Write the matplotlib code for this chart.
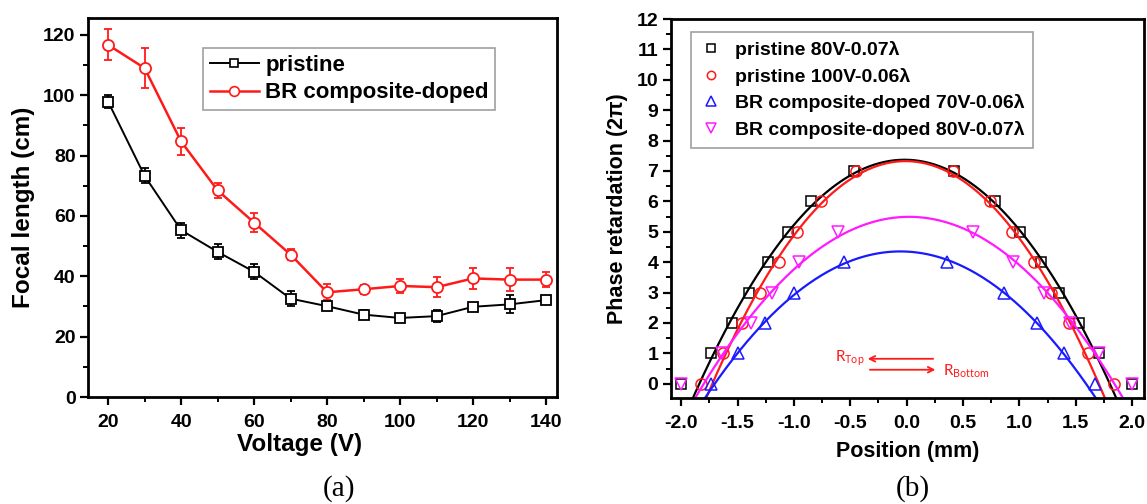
import numpy as np
import matplotlib
matplotlib.use("Agg")
import matplotlib.pyplot as plt
from matplotlib.ticker import MultipleLocator
from matplotlib.lines import Line2D

# ---------------- data: panel (a) ----------------
voltage = [20, 30, 40, 50, 60, 70, 80, 90, 100, 110, 120, 130, 140]
pristine_f = [97.9, 73.3, 55.3, 48.1, 41.5, 32.6, 30.1, 27.3, 26.2, 26.8, 29.9, 30.7, 32.1]
pristine_err = [2.2, 2.5, 2.5, 2.5, 2.5, 2.5, 1.3, 1.4, 1.2, 2.1, 1.2, 3.0, 1.3]
br_f = [116.7, 109.0, 84.7, 68.5, 57.8, 47.2, 34.7, 35.7, 36.8, 36.4, 39.3, 38.9, 38.9]
br_err = [5.1, 6.7, 4.6, 2.5, 3.2, 1.7, 2.7, 1.5, 2.2, 3.3, 3.6, 3.9, 2.5]

# ---------------- data: panel (b) ----------------
p80_x = [-2.0, -1.737, -1.551, -1.396, -1.226, -1.05, -0.851, -0.467,
         0.42, 0.786, 1.003, 1.195, 1.35, 1.529, 1.706, 2.0]
p80_y = [0, 1, 2, 3, 4, 5, 6, 7, 7, 6, 5, 4, 3, 2, 1, 0]

p100_x = [-1.824, -1.632, -1.458, -1.297, -1.136, -0.969, -0.762, -0.452,
          0.415, 0.74, 0.932, 1.127, 1.282, 1.443, 1.613, 1.839]
p100_y = [0, 1, 2, 3, 4, 5, 6, 7, 7, 6, 5, 4, 3, 2, 1, 0]

br70_x = [-1.737, -1.492, -1.26, -0.997, -0.554, 0.359, 0.861, 1.155, 1.396, 1.675]
br70_y = [0, 1, 2, 3, 4, 4, 3, 2, 1, 0]

br80_x = [-2.0, -1.638, -1.384, -1.198, -0.957, -0.607, 0.585, 0.941, 1.217, 1.452, 1.706, 2.0]
br80_y = [0, 1, 2, 3, 4, 5, 5, 4, 3, 2, 1, 0]

labels_a = ["pristine", "BR composite-doped"]
labels_b = ["pristine 80V-0.07λ", "pristine 100V-0.06λ",
            "BR composite-doped 70V-0.06λ", "BR composite-doped 80V-0.07λ"]

RED = "#ff1a1a"
BLUE = "#1a1aff"
MAG = "#ff1aff"

plt.rcParams['font.family'] = ['Liberation Sans', 'DejaVu Sans']
plt.rcParams['font.weight'] = 'bold'
plt.rcParams['mathtext.default'] = 'regular'

W, H = 1147, 504
fig = plt.figure(figsize=(W / 100, H / 100), dpi=100)


def fr(l, t, r, b):
    return [l / W, 1 - b / H, (r - l) / W, (b - t) / H]


def style_axes(ax, fs):
    for s in ax.spines.values():
        s.set_linewidth(2.0)
    ax.tick_params(which='major', direction='out', length=6, width=1.6,
                   labelsize=fs, pad=3)
    ax.tick_params(which='minor', direction='out', length=3.5, width=1.4)
    for t in ax.get_xticklabels() + ax.get_yticklabels():
        t.set_fontweight('bold')


# ---------------- panel (a) ----------------
axa = fig.add_axes(fr(88, 18, 557, 397))
axa.errorbar(voltage, pristine_f, yerr=pristine_err, color='black', lw=1.4,
             marker='s', ms=7, mfc='white', mec='black', mew=1.3,
             capsize=3, elinewidth=1.3, capthick=1.3)
axa.errorbar(voltage, br_f, yerr=br_err, color=RED, lw=1.8,
             marker='o', ms=8, mfc='white', mec=RED, mew=1.3,
             capsize=3, elinewidth=1.3, capthick=1.3)
handles_a = [Line2D([], [], color='black', lw=1.4, marker='s', ms=6, mfc='white',
                    mec='black', mew=1.2),
             Line2D([], [], color=RED, lw=1.8, marker='o', ms=7, mfc='white',
                    mec=RED, mew=1.2)]
axa.set_xlim(14.5, 143)
axa.set_ylim(0, 125.6)
axa.xaxis.set_major_locator(MultipleLocator(20))
axa.xaxis.set_minor_locator(MultipleLocator(10))
axa.yaxis.set_major_locator(MultipleLocator(20))
axa.yaxis.set_minor_locator(MultipleLocator(10))
style_axes(axa, 14)
axa.tick_params(axis='x', pad=6)
axa.set_xlabel("Voltage (V)", fontsize=17.5, fontweight='bold')
axa.set_ylabel("Focal length (cm)", fontsize=17.5, fontweight='bold')
axa.xaxis.set_label_coords((300 - 88) / 469 + 0.0, (397 - 445) / 379)
axa.xaxis.label.set_va('center')
axa.yaxis.set_label_coords((23 - 88) / 469, 0.5)
axa.yaxis.label.set_va('center')
leg = axa.legend(handles_a, labels_a, loc='upper left',
                 bbox_to_anchor=((203 - 88) / 469, (397 - 48) / 379),
                 borderaxespad=0, fontsize=16, frameon=True, fancybox=False,
                 handlelength=2.2, handletextpad=0.3, labelspacing=0.3,
                 borderpad=0.3)
leg.get_frame().set_edgecolor('#888888')
leg.get_frame().set_linewidth(1.2)
for t in leg.get_texts():
    t.set_fontweight('bold')

# ---------------- panel (b) ----------------
axb = fig.add_axes(fr(671, 19, 1144, 398))
xs = np.linspace(-2.2, 2.2, 400)
series = [(p80_x, p80_y, 'black', 's', 7, labels_b[0]),
          (p100_x, p100_y, RED, 'o', 8, labels_b[1]),
          (br70_x, br70_y, BLUE, '^', 9, labels_b[2]),
          (br80_x, br80_y, MAG, 'v', 9, labels_b[3])]
for xv, yv, c, m, ms, lab in series:
    xv = np.asarray(xv)
    yv = np.asarray(yv)
    keep = yv > 0
    coef = np.polyfit(xv[keep], yv[keep], 2)
    axb.plot(xs, np.polyval(coef, xs), color=c, lw=1.6)
    axb.plot(xv, yv, ls='none', marker=m, ms=ms, mfc='none', mec=c, mew=1.1,
             label=lab)
axb.set_xlim(-2.09, 2.106)
axb.set_ylim(-0.47, 12)
axb.xaxis.set_major_locator(MultipleLocator(0.5))
axb.xaxis.set_minor_locator(MultipleLocator(0.25))
axb.yaxis.set_major_locator(MultipleLocator(1))
axb.yaxis.set_minor_locator(MultipleLocator(0.5))
axb.xaxis.set_major_formatter(matplotlib.ticker.FormatStrFormatter('%.1f'))
style_axes(axb, 14)
axb.tick_params(axis='x', pad=6)
axb.set_xlabel("Position (mm)", fontsize=15.5, fontweight='bold')
axb.set_ylabel("Phase retardation (2π)", fontsize=15.5, fontweight='bold')
axb.xaxis.set_label_coords(0.5, (398 - 452) / 379)
axb.xaxis.label.set_va('center')
axb.yaxis.set_label_coords((617 - 671) / 473, 0.5)
axb.yaxis.label.set_va('center')
legb = axb.legend(loc='upper left', bbox_to_anchor=((691 - 671) / 473, (398 - 32) / 379),
                  borderaxespad=0, fontsize=14, frameon=True, fancybox=False,
                  handlelength=1.2, handletextpad=0.6, labelspacing=0.45,
                  borderpad=0.45, markerscale=0.75)
legb.get_frame().set_edgecolor('#888888')
legb.get_frame().set_linewidth(1.2)
for t in legb.get_texts():
    t.set_fontweight('bold')

# arrows / annotation
axb.annotate("", xy=(-0.37, 0.82), xytext=(0.26, 0.82),
             arrowprops=dict(arrowstyle='->', color=RED, lw=1.3))
axb.annotate("", xy=(0.28, 0.46), xytext=(-0.35, 0.46),
             arrowprops=dict(arrowstyle='->', color=RED, lw=1.3))
axb.text(-0.635, 0.85, r"R$_{Top}$", color=RED, fontsize=11, fontweight='normal',
         family='Lato', ha='left', va='center')
axb.text(0.32, 0.40, r"R$_{Bottom}$", color=RED, fontsize=11, fontweight='normal',
         family='Lato', ha='left', va='center')

# captions
fig.text(339 / W, 1 - 489 / H, "(a)", ha='center', va='center', fontsize=21,
         family='Liberation Serif', fontweight='normal')
fig.text(913 / W, 1 - 489 / H, "(b)", ha='center', va='center', fontsize=21,
         family='Liberation Serif', fontweight='normal')

fig.savefig("out.png", dpi=100)
